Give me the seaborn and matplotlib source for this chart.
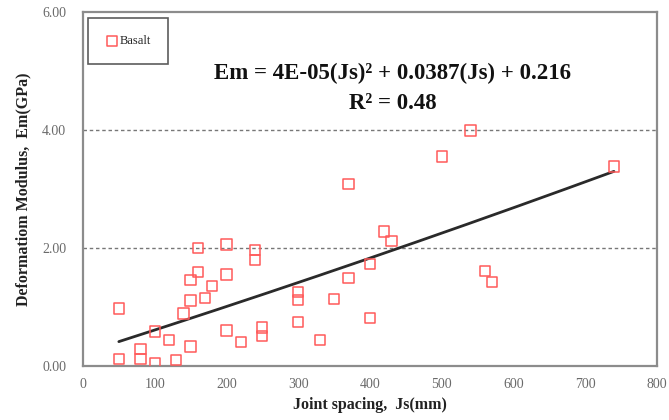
import numpy as np
import pandas as pd
import matplotlib
matplotlib.use("Agg")
import matplotlib.pyplot as plt
import seaborn as sns

# Joint spacing (mm) and deformation modulus (GPa) for the basalt samples
joint_spacing = [50, 50, 80, 80, 100, 100, 120, 130, 140, 150,
                 150, 150, 160, 160, 170, 180, 200, 200, 200, 220,
                 240, 240, 250, 250, 300, 300, 300, 330, 350, 370,
                 370, 400, 400, 420, 430, 500, 540, 560, 570, 740]
modulus = [0.97, 0.11, 0.28, 0.11, 0.58, 0.04, 0.44, 0.10, 0.89, 1.46,
           1.11, 0.33, 2.00, 1.59, 1.15, 1.36, 2.06, 1.55, 0.60, 0.41,
           1.97, 1.80, 0.65, 0.51, 1.25, 1.12, 0.74, 0.44, 1.13, 3.08,
           1.49, 1.73, 0.81, 2.28, 2.12, 3.55, 3.99, 1.61, 1.42, 3.38]

# Polynomial trend Em = a(Js)^2 + b(Js) + c, with Js expressed in cm
coef_a, coef_b, coef_c = 4e-05, 0.0387, 0.216
r_squared = 0.48
fit_range = [50, 740]

x_ticks = [0, 100, 200, 300, 400, 500, 600, 700, 800]
y_ticks = [0.0, 2.0, 4.0, 6.0]

df = pd.DataFrame({"js": joint_spacing, "em": modulus})
js_line = np.linspace(fit_range[0], fit_range[1], 200)
js_cm = js_line / 10.0
fit_df = pd.DataFrame({"js": js_line, "em": coef_a * js_cm ** 2 + coef_b * js_cm + coef_c})

sns.set_style("white")
plt.rcParams["font.family"] = ["Liberation Serif", "DejaVu Serif"]

fig = plt.figure(figsize=(6.69, 4.20), dpi=100)
ax = fig.add_axes([0.124, 0.129, 0.858, 0.842])

sns.lineplot(data=fit_df, x="js", y="em", ax=ax, color="#2a2a2a", linewidth=2.0,
             legend=False, zorder=2)
sns.scatterplot(data=df, x="js", y="em", ax=ax, marker="s", s=55,
                facecolor="none", edgecolor="#ff5a5a", linewidth=1.1,
                label="Basalt", zorder=3)

ax.set_xlim(0, 800)
ax.set_ylim(0, 6)
ax.set_xticks(x_ticks)
ax.set_yticks(y_ticks)
ax.set_yticklabels([f"{v:.2f}" for v in y_ticks])

for yv in (2.0, 4.0):
    ax.axhline(yv, color="#777777", linestyle=(0, (2.5, 2)), linewidth=1.0, zorder=1)

for side in ("left", "right", "top", "bottom"):
    ax.spines[side].set_color("#8c8c8c")
    ax.spines[side].set_linewidth(1.6)

ax.tick_params(axis="x", direction="in", length=4, width=1, color="#8c8c8c",
               labelsize=10, labelcolor="#6a6a6a", pad=9)
ax.tick_params(axis="y", length=0, labelsize=10, labelcolor="#6a6a6a", pad=12)

ax.set_xlabel("Joint spacing,  Js(mm)", fontsize=11.5, fontweight="bold",
              color="#222222", labelpad=4)
ax.set_ylabel("Deformatiom Modulus,  Em(GPa)", fontsize=11.5, fontweight="bold",
              color="#222222", labelpad=8)

ax.text(0.54, 0.827, "Em = 4E-05(Js)² + 0.0387(Js) + 0.216",
        transform=ax.transAxes, ha="center", va="center", fontsize=16.5,
        fontweight="bold", color="#111111")
ax.text(0.54, 0.742, f"R² = {r_squared:.2f}", transform=ax.transAxes,
        ha="center", va="center", fontsize=16.5, fontweight="bold", color="#111111")

leg = ax.legend(loc="upper left", bbox_to_anchor=(0.008, 0.983), fancybox=False,
                frameon=True, fontsize=9, handletextpad=0.0, handlelength=1.2,
                borderpad=1.35, borderaxespad=0.0)
leg.get_frame().set_edgecolor("#333333")
leg.get_frame().set_linewidth(1.2)

fig.savefig("out.png", dpi=100)
